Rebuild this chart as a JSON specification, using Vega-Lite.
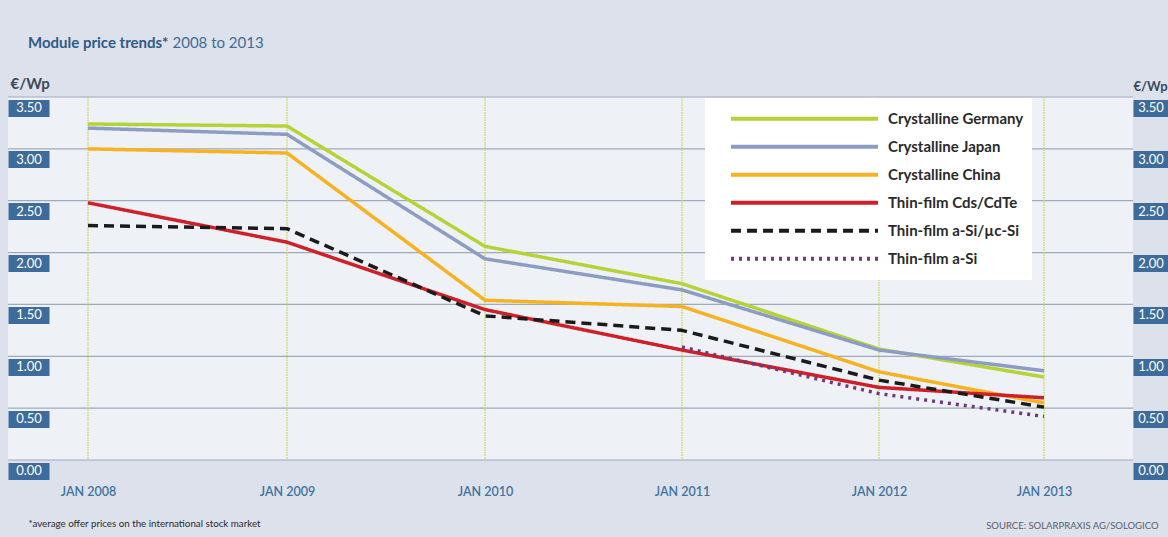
{
  "$schema": "https://vega.github.io/schema/vega-lite/v6.json",
  "width": 1125,
  "height": 363,
  "autosize": {"type": "none"},
  "padding": {"left": 8, "top": 97, "right": 35, "bottom": 77},
  "background": "#dde1eb",
  "config": {
    "font": "Lato",
    "view": {"fill": "#eef1f6", "stroke": null},
    "axis": {"labelFlush": false, "labelOverlap": false}
  },
  "title": {
    "text": "Module price trends*",
    "anchor": "start",
    "frame": "group",
    "dx": 20,
    "dy": 16,
    "offset": 0,
    "font": "Lato",
    "fontSize": 15,
    "fontWeight": "bold",
    "color": "#2d5a88"
  },
  "datasets": {
    "prices": [
      {"series": "Crystalline Germany", "year": 2008, "price": 3.24},
      {"series": "Crystalline Germany", "year": 2009, "price": 3.22},
      {"series": "Crystalline Germany", "year": 2010, "price": 2.06},
      {"series": "Crystalline Germany", "year": 2011, "price": 1.70},
      {"series": "Crystalline Germany", "year": 2012, "price": 1.07},
      {"series": "Crystalline Germany", "year": 2013, "price": 0.80},
      {"series": "Crystalline Japan", "year": 2008, "price": 3.20},
      {"series": "Crystalline Japan", "year": 2009, "price": 3.14},
      {"series": "Crystalline Japan", "year": 2010, "price": 1.94},
      {"series": "Crystalline Japan", "year": 2011, "price": 1.64},
      {"series": "Crystalline Japan", "year": 2012, "price": 1.06},
      {"series": "Crystalline Japan", "year": 2013, "price": 0.86},
      {"series": "Crystalline China", "year": 2008, "price": 3.00},
      {"series": "Crystalline China", "year": 2009, "price": 2.96},
      {"series": "Crystalline China", "year": 2010, "price": 1.54},
      {"series": "Crystalline China", "year": 2011, "price": 1.48},
      {"series": "Crystalline China", "year": 2012, "price": 0.85},
      {"series": "Crystalline China", "year": 2013, "price": 0.55},
      {"series": "Thin-film Cds/CdTe", "year": 2008, "price": 2.48},
      {"series": "Thin-film Cds/CdTe", "year": 2009, "price": 2.10},
      {"series": "Thin-film Cds/CdTe", "year": 2010, "price": 1.45},
      {"series": "Thin-film Cds/CdTe", "year": 2011, "price": 1.06},
      {"series": "Thin-film Cds/CdTe", "year": 2012, "price": 0.70},
      {"series": "Thin-film Cds/CdTe", "year": 2013, "price": 0.60},
      {"series": "Thin-film a-Si/µc-Si", "year": 2008, "price": 2.26},
      {"series": "Thin-film a-Si/µc-Si", "year": 2009, "price": 2.23},
      {"series": "Thin-film a-Si/µc-Si", "year": 2010, "price": 1.39},
      {"series": "Thin-film a-Si/µc-Si", "year": 2011, "price": 1.25},
      {"series": "Thin-film a-Si/µc-Si", "year": 2012, "price": 0.77},
      {"series": "Thin-film a-Si/µc-Si", "year": 2013, "price": 0.51},
      {"series": "Thin-film a-Si", "year": 2011, "price": 1.09},
      {"series": "Thin-film a-Si", "year": 2012, "price": 0.64},
      {"series": "Thin-film a-Si", "year": 2013, "price": 0.42}
    ],
    "ticks": [
      {"v": 0}, {"v": 0.5}, {"v": 1}, {"v": 1.5},
      {"v": 2}, {"v": 2.5}, {"v": 3}, {"v": 3.5}
    ],
    "years": [
      {"year": 2008}, {"year": 2009}, {"year": 2010},
      {"year": 2011}, {"year": 2012}, {"year": 2013}
    ]
  },
  "layer": [
    {
      "data": {"name": "ticks"},
      "mark": {"type": "rule", "stroke": "#a1aabb", "strokeWidth": 1.2},
      "encoding": {
        "y": {
          "field": "v",
          "type": "quantitative",
          "scale": {"domain": [0, 3.5], "nice": false, "zero": true},
          "axis": {
            "orient": "right",
            "values": [0, 0.5, 1, 1.5, 2, 2.5, 3, 3.5],
            "format": ".2f",
            "domain": false,
            "grid": false,
            "ticks": true,
            "tickSize": 35,
            "tickWidth": 17,
            "tickColor": "#3d6b9b",
            "tickOffset": 10.5,
            "tickCap": "butt",
            "labelColor": "#ffffff",
            "labelFont": "Lato",
            "labelFontSize": 13,
            "labelAlign": "center",
            "labelBaseline": "middle",
            "labelPadding": -17.5,
            "title": "€/Wp",
            "titleAngle": 0,
            "titleX": 0,
            "titleY": -7,
            "titleAlign": "left",
            "titleBaseline": "alphabetic",
            "titleFont": "Lato",
            "titleFontSize": 13,
            "titleFontWeight": "bold",
            "titleColor": "#3a4a5c"
          }
        }
      }
    },
    {
      "data": {"name": "years"},
      "mark": {"type": "rule", "stroke": "#c3d44b", "strokeWidth": 1.2, "strokeDash": [1.5, 1]},
      "encoding": {
        "x": {
          "field": "year",
          "type": "quantitative",
          "scale": {"type": "linear", "domain": [2008, 2009, 2010, 2011, 2012, 2013], "range": [80, 279, 477, 674, 871, 1036], "nice": false, "zero": false},
          "axis": {
            "orient": "top",
            "labels": false,
            "ticks": false,
            "domain": false,
            "grid": false,
            "title": "2008 to 2013",
            "titleX": 164,
            "titleY": -50,
            "titleAlign": "left",
            "titleBaseline": "alphabetic",
            "titleFont": "Lato",
            "titleFontSize": 15,
            "titleFontWeight": "normal",
            "titleColor": "#3d6c9c"
          }
        }
      }
    },
    {
      "data": {"name": "prices"},
      "transform": [{"filter": "indexof(datum.series, 'Crystalline') === 0"}],
      "mark": {"type": "line", "strokeWidth": 3.5, "strokeCap": "butt", "strokeJoin": "round"},
      "encoding": {
        "x": {
          "field": "year",
          "type": "quantitative",
          "scale": {"type": "linear", "domain": [2008, 2009, 2010, 2011, 2012, 2013], "range": [80, 279, 477, 674, 871, 1036], "nice": false, "zero": false},
          "axis": {
            "orient": "bottom",
            "values": [2008, 2009, 2010, 2011, 2012, 2013],
            "labelExpr": "'JAN ' + datum.value",
            "domain": false,
            "ticks": false,
            "tickSize": 0,
            "grid": false,
            "labelPadding": 25,
            "labelFont": "Lato",
            "labelFontSize": 12.5,
            "labelFontWeight": 600,
            "labelColor": "#3f72a2",
            "title": "*average offer prices on the international stock market",
            "titleX": 20,
            "titleY": 66,
            "titleAlign": "left",
            "titleBaseline": "alphabetic",
            "titleFont": "Lato",
            "titleFontSize": 9.75,
            "titleFontWeight": "normal",
            "titleColor": "#2a2a2a"
          }
        },
        "y": {
          "field": "price",
          "type": "quantitative",
          "scale": {"domain": [0, 3.5], "nice": false, "zero": true},
          "axis": {
            "orient": "left",
            "offset": -41,
            "values": [0, 0.5, 1, 1.5, 2, 2.5, 3, 3.5],
            "format": ".2f",
            "domain": false,
            "grid": false,
            "ticks": true,
            "tickSize": 41,
            "tickWidth": 17,
            "tickColor": "#3d6b9b",
            "tickOffset": 10.5,
            "tickCap": "butt",
            "labelColor": "#ffffff",
            "labelFont": "Lato",
            "labelFontSize": 13,
            "labelAlign": "center",
            "labelBaseline": "middle",
            "labelPadding": -20.5,
            "title": "€/Wp",
            "titleAngle": 0,
            "titleX": -39,
            "titleY": -9,
            "titleAlign": "left",
            "titleBaseline": "alphabetic",
            "titleFont": "Lato",
            "titleFontSize": 15,
            "titleFontWeight": "bold",
            "titleColor": "#3a4a5c"
          }
        },
        "color": {
          "field": "series",
          "type": "nominal",
          "scale": {
            "domain": ["Crystalline Germany", "Crystalline Japan", "Crystalline China", "Thin-film Cds/CdTe", "Thin-film a-Si/µc-Si", "Thin-film a-Si"],
            "range": ["#b6d335", "#8b9dc3", "#f6b21f", "#cf1f28", "#1b1b1b", "#6e3a7c"]
          },
          "legend": {
            "title": null,
            "orient": "none",
            "legendX": 697,
            "legendY": 1,
            "direction": "vertical",
            "fillColor": "#ffffff",
            "padding": 8,
            "symbolType": "stroke",
            "symbolSize": 21609,
            "symbolStrokeWidth": 4,
            "symbolOffset": 16,
            "clipHeight": 25.5,
            "rowPadding": 2,
            "labelOffset": 8,
            "labelFont": "Lato",
            "labelFontSize": 15,
            "labelFontWeight": "bold",
            "labelColor": "#2a2a2a",
            "labelLimit": 300
          }
        },
        "strokeDash": {
          "field": "series",
          "type": "nominal",
          "scale": {
            "domain": ["Crystalline Germany", "Crystalline Japan", "Crystalline China", "Thin-film Cds/CdTe", "Thin-film a-Si/µc-Si", "Thin-film a-Si"],
            "range": [[1, 0], [1, 0], [1, 0], [1, 0], [10, 6], [3, 5]]
          },
          "legend": {
            "title": null,
            "orient": "none",
            "legendX": 697,
            "legendY": 1,
            "direction": "vertical",
            "fillColor": "#ffffff",
            "padding": 8,
            "symbolType": "stroke",
            "symbolSize": 21609,
            "symbolStrokeWidth": 4,
            "symbolOffset": 16,
            "clipHeight": 25.5,
            "rowPadding": 2,
            "labelOffset": 8,
            "labelFont": "Lato",
            "labelFontSize": 15,
            "labelFontWeight": "bold",
            "labelColor": "#2a2a2a",
            "labelLimit": 300
          }
        }
      }
    },
    {
      "data": {"name": "prices"},
      "transform": [{"filter": "indexof(datum.series, 'Thin-film') === 0"}],
      "mark": {"type": "line", "strokeWidth": 3.5, "strokeCap": "butt", "strokeJoin": "round"},
      "encoding": {
        "x": {
          "field": "year",
          "type": "quantitative",
          "scale": {"type": "linear", "domain": [2008, 2009, 2010, 2011, 2012, 2013], "range": [80, 279, 477, 674, 871, 1036], "nice": false, "zero": false},
          "axis": {
            "orient": "bottom",
            "labels": false,
            "ticks": false,
            "domain": false,
            "grid": false,
            "title": "SOURCE: SOLARPRAXIS AG/SOLOGICO",
            "titleX": 1150,
            "titleY": 68,
            "titleAlign": "right",
            "titleBaseline": "alphabetic",
            "titleFont": "Lato",
            "titleFontSize": 9.5,
            "titleFontWeight": "normal",
            "titleColor": "#55606c"
          }
        },
        "y": {
          "field": "price",
          "type": "quantitative",
          "scale": {"domain": [0, 3.5], "nice": false, "zero": true},
          "axis": null
        },
        "color": {
          "field": "series",
          "type": "nominal",
          "scale": {
            "domain": ["Crystalline Germany", "Crystalline Japan", "Crystalline China", "Thin-film Cds/CdTe", "Thin-film a-Si/µc-Si", "Thin-film a-Si"],
            "range": ["#b6d335", "#8b9dc3", "#f6b21f", "#cf1f28", "#1b1b1b", "#6e3a7c"]
          }
        },
        "strokeDash": {
          "field": "series",
          "type": "nominal",
          "scale": {
            "domain": ["Crystalline Germany", "Crystalline Japan", "Crystalline China", "Thin-film Cds/CdTe", "Thin-film a-Si/µc-Si", "Thin-film a-Si"],
            "range": [[1, 0], [1, 0], [1, 0], [1, 0], [10, 6], [3, 5]]
          }
        }
      }
    }
  ],
  "resolve": {"axis": {"x": "independent", "y": "independent"}}
}
